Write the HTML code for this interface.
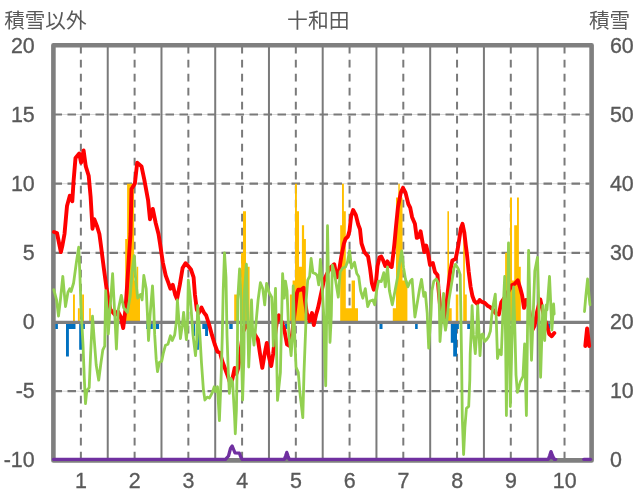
<!DOCTYPE html>
<html><head><meta charset="utf-8"><title>chart</title>
<style>html,body{margin:0;padding:0;background:#fff}svg{display:block}</style></head>
<body>
<svg width="636" height="501" viewBox="0 0 636 501">
<rect width="636" height="501" fill="#fff"/>
<line x1="53.4" y1="114.48" x2="591.6" y2="114.48" stroke="#d9d9d9" stroke-width="1"/>
<line x1="53.5" y1="114.48" x2="589.6" y2="114.48" stroke="#7a7a7a" stroke-width="2.2" stroke-dasharray="8.5 5.5"/>
<line x1="53.4" y1="183.67" x2="591.6" y2="183.67" stroke="#d9d9d9" stroke-width="1"/>
<line x1="53.5" y1="183.67" x2="589.6" y2="183.67" stroke="#7a7a7a" stroke-width="2.2" stroke-dasharray="8.5 5.5"/>
<line x1="53.4" y1="252.85" x2="591.6" y2="252.85" stroke="#d9d9d9" stroke-width="1"/>
<line x1="53.5" y1="252.85" x2="589.6" y2="252.85" stroke="#7a7a7a" stroke-width="2.2" stroke-dasharray="8.5 5.5"/>
<line x1="53.4" y1="391.22" x2="591.6" y2="391.22" stroke="#d9d9d9" stroke-width="1"/>
<line x1="53.5" y1="391.22" x2="589.6" y2="391.22" stroke="#7a7a7a" stroke-width="2.2" stroke-dasharray="8.5 5.5"/>
<line x1="80.87" y1="45.7" x2="80.87" y2="460.4" stroke="#7a7a7a" stroke-width="2.0" stroke-dasharray="7.7 6.3"/>
<line x1="107.74" y1="45.3" x2="107.74" y2="460.4" stroke="#7a7a7a" stroke-width="2.0"/>
<line x1="134.61" y1="45.7" x2="134.61" y2="460.4" stroke="#7a7a7a" stroke-width="2.0" stroke-dasharray="7.7 6.3"/>
<line x1="161.48" y1="45.3" x2="161.48" y2="460.4" stroke="#7a7a7a" stroke-width="2.0"/>
<line x1="188.35" y1="45.7" x2="188.35" y2="460.4" stroke="#7a7a7a" stroke-width="2.0" stroke-dasharray="7.7 6.3"/>
<line x1="215.22" y1="45.3" x2="215.22" y2="460.4" stroke="#7a7a7a" stroke-width="2.0"/>
<line x1="242.09" y1="45.7" x2="242.09" y2="460.4" stroke="#7a7a7a" stroke-width="2.0" stroke-dasharray="7.7 6.3"/>
<line x1="268.96" y1="45.3" x2="268.96" y2="460.4" stroke="#7a7a7a" stroke-width="2.0"/>
<line x1="295.83" y1="45.7" x2="295.83" y2="460.4" stroke="#7a7a7a" stroke-width="2.0" stroke-dasharray="7.7 6.3"/>
<line x1="322.70" y1="45.3" x2="322.70" y2="460.4" stroke="#7a7a7a" stroke-width="2.0"/>
<line x1="349.57" y1="45.7" x2="349.57" y2="460.4" stroke="#7a7a7a" stroke-width="2.0" stroke-dasharray="7.7 6.3"/>
<line x1="376.44" y1="45.3" x2="376.44" y2="460.4" stroke="#7a7a7a" stroke-width="2.0"/>
<line x1="403.31" y1="45.7" x2="403.31" y2="460.4" stroke="#7a7a7a" stroke-width="2.0" stroke-dasharray="7.7 6.3"/>
<line x1="430.18" y1="45.3" x2="430.18" y2="460.4" stroke="#7a7a7a" stroke-width="2.0"/>
<line x1="457.05" y1="45.7" x2="457.05" y2="460.4" stroke="#7a7a7a" stroke-width="2.0" stroke-dasharray="7.7 6.3"/>
<line x1="483.92" y1="45.3" x2="483.92" y2="460.4" stroke="#7a7a7a" stroke-width="2.0"/>
<line x1="510.79" y1="45.7" x2="510.79" y2="460.4" stroke="#7a7a7a" stroke-width="2.0" stroke-dasharray="7.7 6.3"/>
<line x1="537.66" y1="45.3" x2="537.66" y2="460.4" stroke="#7a7a7a" stroke-width="2.0"/>
<line x1="564.53" y1="45.7" x2="564.53" y2="460.4" stroke="#7a7a7a" stroke-width="2.0" stroke-dasharray="7.7 6.3"/>
<rect x="53.4" y="45.3" width="538.2" height="415.1" fill="none" stroke="#7f7f7f" stroke-width="4.6" stroke-linejoin="round"/>
<path d="M73.0,322.0L73.0,294.4L74.9,294.4L74.9,322.0ZM77.9,322.0L77.9,308.2L79.8,308.2L79.8,322.0ZM82.1,322.0L82.1,294.4L84.0,294.4L84.0,322.0ZM89.2,322.0L89.2,308.2L90.8,308.2L90.8,322.0ZM125.2,322.0L125.2,239.0L127.1,239.0L127.1,183.7L134.1,183.7L134.1,280.5L136.6,280.5L136.6,266.7L138.2,266.7L138.2,294.4L140.0,294.4L140.0,322.0ZM234.2,322.0L234.2,294.4L237.7,294.4L237.7,322.0ZM241.1,322.0L241.1,252.8L243.0,252.8L243.0,211.3L246.0,211.3L246.0,266.7L247.4,266.7L247.4,266.7L249.6,266.7L249.6,322.0ZM289.9,322.0L289.9,294.4L292.6,294.4L292.6,280.5L295.0,280.5L295.0,183.7L296.9,183.7L296.9,211.3L299.0,211.3L299.0,266.7L301.9,266.7L301.9,225.2L304.1,225.2L304.1,239.0L305.9,239.0L305.9,322.0ZM340.2,322.0L340.2,225.2L342.0,225.2L342.0,183.7L343.9,183.7L343.9,211.3L345.8,211.3L345.8,308.2L351.6,308.2L351.6,280.5L355.0,280.5L355.0,308.2L358.0,308.2L358.0,322.0ZM392.8,322.0L392.8,308.2L396.0,308.2L396.0,197.5L398.3,197.5L398.3,183.7L399.8,183.7L399.8,197.5L402.5,197.5L402.5,280.5L407.4,280.5L407.4,322.0ZM447.4,322.0L447.4,211.3L449.0,211.3L449.0,308.2L451.7,308.2L451.7,322.0ZM455.8,322.0L455.8,294.4L458.3,294.4L458.3,322.0ZM463.2,322.0L463.2,225.2L464.9,225.2L464.9,294.4L466.8,294.4L466.8,322.0ZM505.1,322.0L505.1,252.8L507.2,252.8L507.2,280.5L510.0,280.5L510.0,197.5L512.0,197.5L512.0,280.5L514.2,280.5L514.2,225.2L517.0,225.2L517.0,197.5L518.9,197.5L518.9,266.7L520.8,266.7L520.8,322.0Z" fill="#ffc000"/>
<path d="M55.3,322.0L55.3,329.0L57.9,329.0L57.9,322.0ZM66.0,322.0L66.0,356.6L68.9,356.6L68.9,329.0L75.5,329.0L75.5,322.0ZM79.2,322.0L79.2,349.7L82.1,349.7L82.1,329.0L84.9,329.0L84.9,322.0ZM146.2,322.0L146.2,329.0L152.8,329.0L152.8,322.0ZM155.7,322.0L155.7,329.0L159.1,329.0L159.1,322.0ZM193.6,322.0L193.6,335.9L195.1,335.9L195.1,322.0ZM197.0,322.0L197.0,349.7L198.9,349.7L198.9,322.0ZM202.3,322.0L202.3,329.0L205.1,329.0L205.1,335.9L208.0,335.9L208.0,322.0ZM229.3,322.0L229.3,329.0L232.7,329.0L232.7,322.0ZM285.0,322.0L285.0,329.0L287.2,329.0L287.2,322.0ZM379.5,322.0L379.5,329.0L382.5,329.0L382.5,322.0ZM415.1,322.0L415.1,329.0L417.7,329.0L417.7,322.0ZM450.8,322.0L450.8,342.8L453.2,342.8L453.2,356.6L457.0,356.6L457.0,329.0L458.9,329.0L458.9,322.0ZM467.2,322.0L467.2,329.0L470.0,329.0L470.0,322.0ZM547.0,322.0L547.0,329.0L550.2,329.0L550.2,322.0Z" fill="#0070c0"/>
<line x1="53.4" y1="322.33" x2="591.6" y2="322.33" stroke="#7f7f7f" stroke-width="3.3"/>
<polyline points="54.0,232.0 57.0,233.0 59.0,243.0 60.9,252.0 62.5,245.0 64.5,234.0 67.0,206.0 69.8,195.7 72.3,201.3 73.5,182.0 75.5,158.0 79.2,153.6 81.1,162.6 83.6,150.4 85.8,166.4 88.7,175.8 90.6,196.6 92.5,228.7 94.3,219.2 97.2,226.8 99.4,234.0 100.9,245.3 103.8,268.0 106.6,288.7 110.4,309.5 115.1,315.1 117.9,311.4 120.8,317.0 123.2,328.0 125.5,309.5 127.4,281.2 129.2,252.9 130.5,234.0 131.5,189.0 134.9,183.4 137.2,162.6 141.5,166.4 144.3,179.6 148.1,200.4 150.0,219.2 152.8,208.9 155.7,223.0 158.5,234.0 160.0,243.4 162.8,262.3 165.7,275.5 168.5,283.1 170.4,288.7 172.8,284.9 175.1,294.4 177.0,299.1 179.8,284.9 182.6,268.0 185.5,263.2 188.3,266.1 191.1,269.8 193.6,277.4 194.9,294.4 196.8,309.5 198.7,313.2 201.5,307.6 203.8,312.3 206.2,315.5 209.1,324.5 211.9,334.9 214.7,344.3 217.5,351.8 220.0,352.8 222.3,361.3 225.1,368.8 227.9,376.4 230.8,385.0 232.6,378.0 234.7,368.0 236.4,374.0 238.3,368.0 240.2,353.7 243.0,332.0 246.0,326.0 250.0,327.0 254.0,333.0 257.9,339.4 260.0,353.7 262.3,367.9 264.7,353.7 266.8,343.0 269.1,357.5 271.2,366.0 273.2,353.7 275.1,334.9 277.5,317.0 278.9,315.2 281.0,320.0 284.2,329.2 287.0,344.3 289.5,346.0 292.0,335.0 295.0,310.0 297.0,293.0 298.3,289.7 301.1,289.7 303.6,287.8 304.9,300.0 306.8,313.2 309.6,321.0 312.0,313.0 313.8,325.0 316.0,315.0 318.1,307.6 320.9,294.4 323.8,281.2 326.6,274.6 330.0,268.0 334.2,264.2 337.0,277.4 338.9,271.7 341.3,256.6 342.3,251.6 343.9,243.7 345.5,238.9 347.9,236.5 349.5,230.9 351.1,216.5 353.1,210.0 355.8,214.9 358.2,224.5 360.0,229.3 361.5,243.4 364.3,251.9 368.1,256.6 370.0,268.0 371.9,283.1 373.8,289.7 375.7,284.9 377.5,266.1 379.4,257.6 381.3,256.6 383.0,260.0 385.3,266.0 387.5,261.4 389.4,265.5 391.7,267.0 393.3,254.0 394.5,243.0 396.0,226.6 397.9,207.7 400.8,192.6 403.0,187.9 405.5,192.6 408.3,204.0 410.2,207.7 412.1,217.2 414.9,223.8 416.8,237.9 418.7,237.0 420.6,231.3 422.5,242.0 424.3,252.0 426.2,245.5 428.1,253.5 430.0,265.0 432.8,263.0 435.0,272.0 437.5,275.0 438.5,289.0 440.4,309.0 443.0,321.0 445.0,319.0 446.0,309.5 447.9,290.6 450.2,271.7 452.3,260.5 455.6,259.0 457.7,249.0 458.3,245.5 460.8,228.5 462.5,223.8 464.3,232.3 465.8,245.5 466.8,252.9 468.7,271.7 470.6,286.8 472.5,296.3 474.3,301.0 477.2,303.8 479.6,300.0 481.9,301.9 484.7,302.9 487.5,305.7 490.0,307.0 492.8,309.5 495.7,313.2 498.8,314.5 501.3,302.3 504.2,298.2 508.9,290.6 511.7,285.3 514.5,284.0 517.8,280.3 520.2,288.0 522.1,295.3 524.0,307.9 526.0,300.0 528.0,303.0 530.0,315.0 532.5,330.0 534.5,326.0 537.0,312.0 540.3,299.5 542.2,308.6 545.0,320.0 547.4,327.5 549.2,334.0 551.7,336.2 554.3,333.0" fill="none" stroke="#ff0000" stroke-width="3.9" stroke-linejoin="round" stroke-linecap="round"/>
<polyline points="585.3,346.0 587.1,328.5 589.2,346.0" fill="none" stroke="#ff0000" stroke-width="3.9" stroke-linejoin="round" stroke-linecap="round"/>
<polyline points="53.8,289.7 56.6,300.0 58.5,316.1 60.4,300.0 62.8,276.5 65.5,306.6 67.9,292.5 69.8,288.7 71.1,291.5 73.6,283.0 76.4,262.3 78.7,247.2 79.8,271.7 81.1,309.5 83.0,344.3 84.3,378.3 85.5,403.7 86.8,390.5 89.2,387.7 90.6,353.7 92.5,316.1 94.3,340.5 96.2,365.0 98.7,380.2 100.9,363.2 102.8,350.0 104.7,346.2 105.7,290.6 107.2,310.0 108.3,334.0 110.0,310.0 112.6,273.6 114.0,300.0 115.1,320.8 116.4,349.0 117.5,325.0 118.3,309.5 121.3,295.3 123.6,307.6 127.4,312.3 130.2,296.3 132.1,271.7 134.3,255.7 135.8,281.2 137.7,298.2 140.6,294.4 142.1,300.0 143.8,275.5 146.2,288.7 147.5,316.0 148.5,340.5 150.0,316.0 152.5,285.9 153.8,309.5 154.7,334.9 156.2,359.4 157.5,371.7 159.4,362.2 161.7,361.3 163.2,353.7 165.5,345.2 167.9,344.3 170.4,335.8 172.3,340.5 174.7,334.9 176.6,319.8 177.4,300.0 178.9,320.0 180.4,338.6 182.3,325.4 183.6,312.3 185.5,331.0 186.4,339.6 187.4,327.3 188.3,280.2 190.2,296.3 192.1,322.7 193.0,334.9 195.5,355.6 196.8,338.6 197.7,305.7 199.6,330.0 201.5,363.2 203.4,389.6 204.9,400.0 207.2,397.1 209.4,398.1 211.9,393.4 214.3,386.8 215.7,391.5 217.5,386.8 219.4,420.6 221.3,372.6 222.3,334.9 223.2,290.6 224.5,252.9 226.0,277.4 227.0,334.9 228.3,372.6 229.4,393.4 230.8,378.3 232.6,382.0 234.5,415.0 235.3,433.8 236.4,410.0 237.4,353.7 237.7,300.0 239.6,268.9 241.1,300.0 241.5,353.7 242.6,400.0 244.0,353.7 244.5,290.6 246.4,264.2 247.7,320.0 248.7,367.0 250.2,334.9 251.5,300.0 252.8,334.9 254.0,345.2 255.8,325.4 258.1,300.0 260.4,282.7 262.8,288.7 264.7,304.8 266.6,283.4 269.1,292.5 271.7,297.2 272.5,315.0 273.3,346.0 274.3,315.0 275.5,288.3 276.4,340.0 277.5,400.4 280.4,372.6 282.6,273.6 284.2,298.2 285.5,281.2 287.0,290.6 288.9,334.9 291.1,355.6 292.6,334.9 293.2,285.9 294.5,330.0 296.0,367.0 298.3,372.6 299.8,391.5 302.8,417.7 304.0,372.6 305.8,325.4 306.2,300.0 307.7,280.2 309.6,276.5 311.1,258.5 313.0,272.7 315.3,273.6 317.2,275.5 318.7,284.9 320.4,259.5 321.9,281.2 323.8,316.0 324.7,353.7 325.7,385.8 326.6,320.0 327.5,225.7 328.5,280.0 330.0,342.4 331.3,316.0 332.3,265.1 334.2,271.7 336.0,283.0 338.3,297.2 340.2,271.7 342.6,268.0 345.5,267.0 347.4,262.3 349.6,250.6 351.5,268.0 354.5,262.3 356.8,273.6 358.7,276.5 360.6,290.6 362.8,298.2 365.3,288.7 367.7,306.6 370.0,301.0 372.8,300.0 374.7,304.8 376.6,290.6 378.5,281.2 381.3,281.5 383.8,272.7 385.3,286.8 387.5,267.0 389.4,290.6 392.3,304.8 395.1,290.6 397.9,275.5 399.8,262.3 401.7,251.0 403.6,268.0 405.5,279.3 407.9,286.8 410.2,281.2 412.1,279.3 413.6,300.0 414.9,317.0 416.8,305.7 419.6,288.7 421.5,279.3 423.8,296.3 425.3,292.5 427.2,313.2 428.7,348.1 430.9,316.0 431.9,290.6 433.8,281.2 436.2,278.9 438.5,283.1 439.4,309.5 440.0,341.5 441.9,316.0 443.6,293.4 444.2,321.7 445.5,330.2 447.0,319.8 448.9,300.0 451.7,283.1 454.0,268.0 455.5,264.2 458.3,268.9 460.2,274.6 460.8,309.5 461.5,353.7 462.3,417.7 463.6,454.5 464.9,427.2 466.4,408.3 468.7,406.4 469.8,380.0 470.2,353.7 471.5,325.4 472.1,305.7 473.4,334.9 475.3,353.7 476.6,334.9 477.7,305.7 479.1,334.9 480.0,355.6 481.3,334.9 482.8,333.9 484.7,341.5 486.6,339.6 488.5,336.8 490.4,331.1 491.7,316.0 493.2,305.0 495.3,294.1 496.3,320.0 497.5,358.5 499.4,350.0 501.3,354.7 502.8,316.0 504.7,276.5 505.6,340.0 506.4,415.5 507.5,330.0 508.5,243.0 509.5,330.0 510.3,406.5 512.0,340.0 513.6,287.0 514.9,330.0 516.0,375.0 517.4,392.4 520.2,382.0 523.0,376.4 524.6,344.0 525.5,380.0 526.4,415.5 527.5,330.0 528.6,250.3 530.0,310.0 531.5,360.3 533.0,320.0 534.8,271.0 537.5,257.3 539.2,320.0 540.6,377.3 541.9,335.0 542.8,305.7 544.7,340.5 546.2,305.0 547.0,310.0 549.5,276.3 551.9,330.0 553.6,304.0 554.2,314.0" fill="none" stroke="#92d050" stroke-width="2.8" stroke-linejoin="round" stroke-linecap="round"/>
<polyline points="584.5,311.5 585.8,296.3 587.6,279.0 589.1,296.3 590.0,304.9" fill="none" stroke="#92d050" stroke-width="2.8" stroke-linejoin="round" stroke-linecap="round"/>
<polyline points="53.5,459.3 225.5,459.3 228.5,456.0 230.5,448.5 232.2,446.0 233.6,449.5 235.0,452.8 239.4,453.2 240.8,457.0 242.0,459.3 284.3,459.3 285.6,456.0 286.8,452.4 288.0,456.0 289.3,459.3 548.3,459.3 549.7,455.5 551.0,451.6 552.4,455.5 554.2,459.3 555.8,459.3" fill="none" stroke="#7030a0" stroke-width="3.3" stroke-linejoin="round" stroke-linecap="round"/>
<polyline points="583.8,459.3 590.5,459.3" fill="none" stroke="#7030a0" stroke-width="3.3" stroke-linejoin="round" stroke-linecap="round"/>
<polygon points="284.3,459.3 285.6,456.0 286.8,452.4 288.0,456.0 289.3,459.3" fill="#7030a0"/>
<polygon points="548.3,459.3 549.7,455.5 551.0,451.6 552.4,455.5 554.2,459.3" fill="#7030a0"/>
<g style="filter:opacity(1)">
<text transform="translate(34.70 52.96) scale(0.940 1)" text-anchor="end" style="font-family:'Liberation Sans',sans-serif;font-size:22.8px;fill:#595959;stroke:#595959;stroke-width:0.35px">20</text>
<text transform="translate(34.70 121.96) scale(0.940 1)" text-anchor="end" style="font-family:'Liberation Sans',sans-serif;font-size:22.8px;fill:#595959;stroke:#595959;stroke-width:0.35px">15</text>
<text transform="translate(34.70 190.96) scale(0.940 1)" text-anchor="end" style="font-family:'Liberation Sans',sans-serif;font-size:22.8px;fill:#595959;stroke:#595959;stroke-width:0.35px">10</text>
<text transform="translate(34.70 259.96) scale(0.940 1)" text-anchor="end" style="font-family:'Liberation Sans',sans-serif;font-size:22.8px;fill:#595959;stroke:#595959;stroke-width:0.35px">5</text>
<text transform="translate(34.70 328.96) scale(0.940 1)" text-anchor="end" style="font-family:'Liberation Sans',sans-serif;font-size:22.8px;fill:#595959;stroke:#595959;stroke-width:0.35px">0</text>
<text transform="translate(34.70 397.96) scale(0.940 1)" text-anchor="end" style="font-family:'Liberation Sans',sans-serif;font-size:22.8px;fill:#595959;stroke:#595959;stroke-width:0.35px">-5</text>
<text transform="translate(34.70 466.96) scale(0.940 1)" text-anchor="end" style="font-family:'Liberation Sans',sans-serif;font-size:22.8px;fill:#595959;stroke:#595959;stroke-width:0.35px">-10</text>
<text transform="translate(609.90 52.96) scale(0.940 1)" text-anchor="start" style="font-family:'Liberation Sans',sans-serif;font-size:22.8px;fill:#595959;stroke:#595959;stroke-width:0.35px">60</text>
<text transform="translate(609.90 121.96) scale(0.940 1)" text-anchor="start" style="font-family:'Liberation Sans',sans-serif;font-size:22.8px;fill:#595959;stroke:#595959;stroke-width:0.35px">50</text>
<text transform="translate(609.90 190.96) scale(0.940 1)" text-anchor="start" style="font-family:'Liberation Sans',sans-serif;font-size:22.8px;fill:#595959;stroke:#595959;stroke-width:0.35px">40</text>
<text transform="translate(609.90 259.96) scale(0.940 1)" text-anchor="start" style="font-family:'Liberation Sans',sans-serif;font-size:22.8px;fill:#595959;stroke:#595959;stroke-width:0.35px">30</text>
<text transform="translate(609.90 328.96) scale(0.940 1)" text-anchor="start" style="font-family:'Liberation Sans',sans-serif;font-size:22.8px;fill:#595959;stroke:#595959;stroke-width:0.35px">20</text>
<text transform="translate(609.90 397.96) scale(0.940 1)" text-anchor="start" style="font-family:'Liberation Sans',sans-serif;font-size:22.8px;fill:#595959;stroke:#595959;stroke-width:0.35px">10</text>
<text transform="translate(609.90 466.96) scale(0.940 1)" text-anchor="start" style="font-family:'Liberation Sans',sans-serif;font-size:22.8px;fill:#595959;stroke:#595959;stroke-width:0.35px">0</text>
<text transform="translate(81.07 488.21) scale(0.940 1)" text-anchor="middle" style="font-family:'Liberation Sans',sans-serif;font-size:22.8px;fill:#595959;stroke:#595959;stroke-width:0.35px">1</text>
<text transform="translate(134.81 488.21) scale(0.940 1)" text-anchor="middle" style="font-family:'Liberation Sans',sans-serif;font-size:22.8px;fill:#595959;stroke:#595959;stroke-width:0.35px">2</text>
<text transform="translate(188.55 488.21) scale(0.940 1)" text-anchor="middle" style="font-family:'Liberation Sans',sans-serif;font-size:22.8px;fill:#595959;stroke:#595959;stroke-width:0.35px">3</text>
<text transform="translate(242.29 488.21) scale(0.940 1)" text-anchor="middle" style="font-family:'Liberation Sans',sans-serif;font-size:22.8px;fill:#595959;stroke:#595959;stroke-width:0.35px">4</text>
<text transform="translate(296.03 488.21) scale(0.940 1)" text-anchor="middle" style="font-family:'Liberation Sans',sans-serif;font-size:22.8px;fill:#595959;stroke:#595959;stroke-width:0.35px">5</text>
<text transform="translate(349.77 488.21) scale(0.940 1)" text-anchor="middle" style="font-family:'Liberation Sans',sans-serif;font-size:22.8px;fill:#595959;stroke:#595959;stroke-width:0.35px">6</text>
<text transform="translate(403.51 488.21) scale(0.940 1)" text-anchor="middle" style="font-family:'Liberation Sans',sans-serif;font-size:22.8px;fill:#595959;stroke:#595959;stroke-width:0.35px">7</text>
<text transform="translate(457.25 488.21) scale(0.940 1)" text-anchor="middle" style="font-family:'Liberation Sans',sans-serif;font-size:22.8px;fill:#595959;stroke:#595959;stroke-width:0.35px">8</text>
<text transform="translate(510.99 488.21) scale(0.940 1)" text-anchor="middle" style="font-family:'Liberation Sans',sans-serif;font-size:22.8px;fill:#595959;stroke:#595959;stroke-width:0.35px">9</text>
<text transform="translate(564.73 488.21) scale(0.940 1)" text-anchor="middle" style="font-family:'Liberation Sans',sans-serif;font-size:22.8px;fill:#595959;stroke:#595959;stroke-width:0.35px">10</text>
</g>
<text x="4.2" y="27.7" text-anchor="start" style="font-family:'Liberation Sans','Noto Sans CJK JP',sans-serif;font-size:20.6px;fill:#595959">積雪以外</text>
<text x="287.1" y="27.5" text-anchor="start" style="font-family:'Liberation Sans','Noto Sans CJK JP',sans-serif;font-size:20.8px;fill:#595959">十和田</text>
<text x="589" y="27.7" text-anchor="start" style="font-family:'Liberation Sans','Noto Sans CJK JP',sans-serif;font-size:20.6px;fill:#595959">積雪</text>
</svg>
</body></html>
